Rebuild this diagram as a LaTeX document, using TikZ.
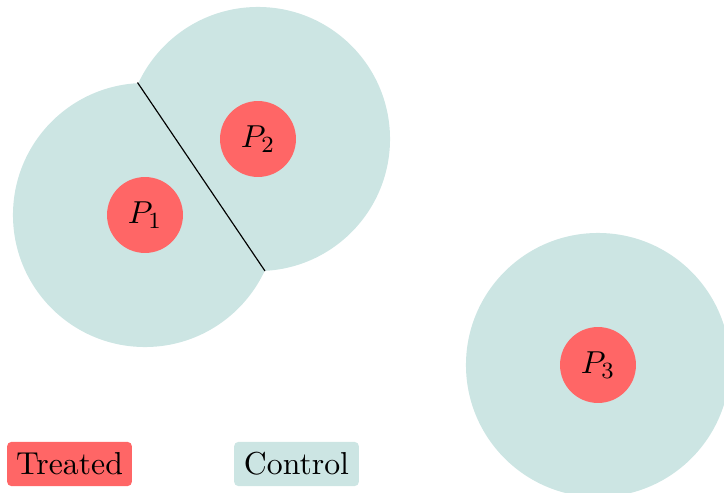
\documentclass[tikz,border=0pt]{standalone}
\usetikzlibrary{calc}
\definecolor{ctrl}{HTML}{CCE5E3}
\definecolor{treat}{HTML}{FF6666}
\begin{document}
\begin{tikzpicture}[x=0.345pt,y=-0.345pt,
  font=\fontsize{10.95}{13.6}\selectfont,
  bigdisk/.style={circle,fill=ctrl,minimum size=91.1pt,inner sep=0pt},
  patient/.style={circle,fill=treat,minimum size=26.2pt,inner sep=0pt},
  legend/.style={rounded corners=1.4pt,minimum height=15.2pt,minimum width=43pt,inner sep=0pt}]
\useasboundingbox (0,0) rectangle (724,493);
\begin{scope}
\clip (0,0) rectangle (724,493);
\node[bigdisk] (c1) at (145,215) {};
\node[bigdisk] (c2) at (258,139) {};
\node[bigdisk] (c3) at (598,365) {};
\end{scope}
\coordinate (ia) at (137.5,82.5);
\coordinate (ib) at (265,271);
\draw[line width=0.4pt] (ia) -- (ib);
\node[patient] (p1) at (145,215) {$P_1$};
\node[patient] (p2) at (258,139) {$P_2$};
\node[patient] (p3) at (598,365) {$P_3$};
\node[legend,fill=treat] (lt) at (69.5,464) {Treated};
\node[legend,fill=ctrl] (lc) at (296.5,464) {Control};
\end{tikzpicture}
\end{document}
